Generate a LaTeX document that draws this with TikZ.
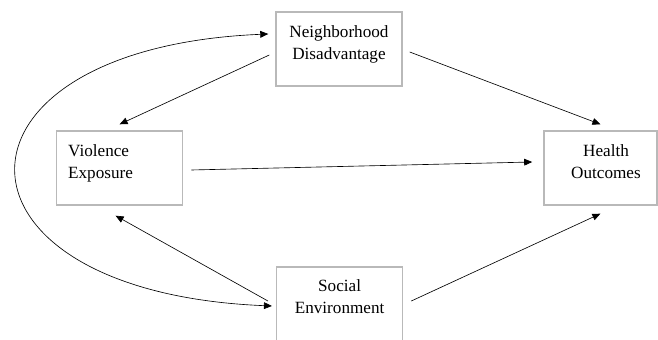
\documentclass[tikz,border=0pt]{standalone}
\usepackage{fontspec}
\setmainfont{Liberation Serif}
\usetikzlibrary{arrows.meta,positioning,calc}
\tikzset{
  Mbox/.style={draw=gray!55, line width=1pt, minimum width=3.15cm,
               minimum height=1.85cm, inner sep=0pt},
  Mtxt/.style={anchor=north, align=center, inner sep=0pt,
               font=\fontsize{12.2}{15.3}\selectfont, yshift=-0.36cm},
  Ltxt/.style={anchor=north west, align=left, inner sep=0pt,
               font=\fontsize{12.2}{15.3}\selectfont, xshift=0.3cm, yshift=-0.36cm},
  Narr/.style={-{Triangle[length=0.2cm,width=0.17cm]}, line width=0.45pt},
  Darr/.style={{Triangle[length=0.2cm,width=0.17cm]}-{Triangle[length=0.2cm,width=0.17cm]},
               line width=0.45pt}
}
\begin{document}
\begin{tikzpicture}
  \useasboundingbox (0,0) rectangle (16.45,-8.5);

  \node[Mbox, label={[Mtxt]north:{Neighborhood\\Disadvantage}}] (neigh) at (8.475,-1.225) {};
  \node[Mbox, label={[Ltxt]north west:{Violence\\Exposure}}] (viol) at (2.99,-4.2) {};
  \node[Mbox, minimum width=2.825cm,
        label={[Mtxt, xshift=0.14cm]north:{Health\\Outcomes}}] (health) at (15.01,-4.2) {};
  \node[Mbox, label={[Mtxt, yshift=0.03cm]north:{Social\\Environment}}] (soc) at (8.49,-7.6) {};

  \draw[Narr] ([shift={(-0.15,-0.15)}]neigh.west) -- ([yshift=0.15cm]viol.north);
  \draw[Narr] ([shift={(0.175,-0.075)}]neigh.east) -- ([yshift=0.15cm]health.north);
  \draw[Narr] ([shift={(0.2,-0.05)}]viol.east) -- ([shift={(-0.275,0.15)}]health.west);
  \draw[Narr] ([shift={(-0.2,0.075)}]soc.west) -- ([shift={(-0.1,-0.25)}]viol.south);
  \draw[Narr] ([shift={(0.2,0.075)}]soc.east) -- ([yshift=-0.2cm]health.south);
  \draw[Darr] ([shift={(-0.175,0.375)}]neigh.west)
    .. controls +(-8.4,-0.35) and +(-8.5,0.35) .. ([shift={(-0.1,-0.05)}]soc.west);
\end{tikzpicture}
\end{document}
